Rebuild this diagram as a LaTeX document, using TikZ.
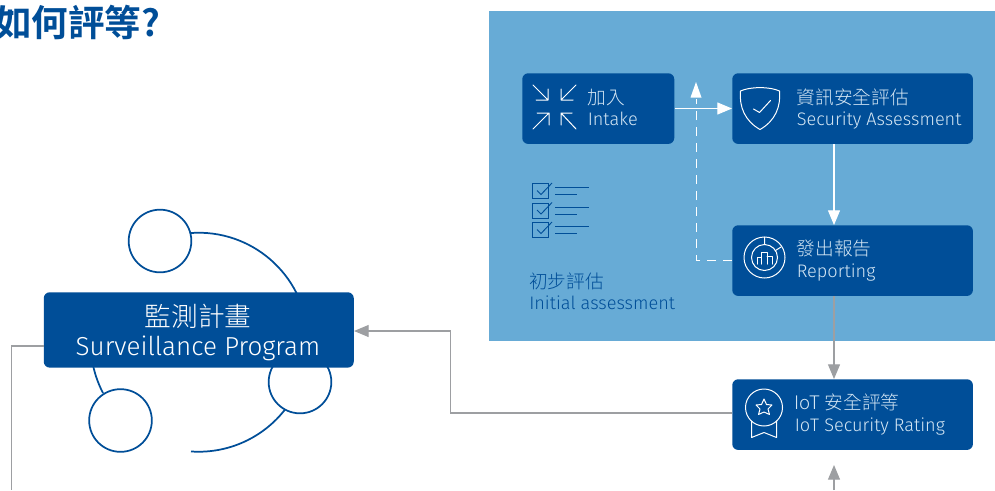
\documentclass[tikz,border=0pt]{standalone}
\usepackage{fontspec}
\setmainfont{Fira Sans Light}
\newfontfamily\cjk{Noto Sans CJK TC Light}
\newfontfamily\cjkbold{Noto Sans CJK TC Bold}
\usetikzlibrary{arrows.meta}
\definecolor{navy}{HTML}{004E98}
\definecolor{sky}{HTML}{67ABD6}
\definecolor{paleT}{HTML}{D4E6F4}
\definecolor{greyL}{HTML}{9D9FA2}
\tikzset{
 x=0.75pt,y=-0.75pt,
 boxn/.style={draw=none,fill=navy,rounded corners=4.5pt,inner sep=0pt,anchor=north west},
 ico/.style={draw=white,line width=0.75pt,line cap=round,line join=round},
 txt/.style={anchor=base west,inner sep=0pt,text=paleT,font=\fontsize{13.6}{16}\selectfont},
 txtzh/.style={anchor=base west,inner sep=0pt,text=paleT,font=\cjk\fontsize{14}{16}\selectfont},
 whitearrow/.style={draw=white,line width=0.8pt,-{Triangle[length=11pt,width=9pt,fill=white]}},
 greyarrow/.style={draw=greyL,line width=0.8pt,-{Triangle[length=11pt,width=9pt,fill=greyL]}},
 ring/.style={draw=navy,line width=1.3pt,fill=white},
 arcline/.style={draw=navy,line width=1.3pt},
 listic/.style={draw=navy,line width=0.7pt},
}
\begin{document}
\begin{tikzpicture}
\useasboundingbox (0,0) rectangle (995,490);
\fill[white] (0,0) rectangle (995,490);
\node[anchor=base west,inner sep=0pt,text=navy,font=\cjkbold\fontsize{27.4}{28}\selectfont] (title) at (-5,36) {如何評等?};
\fill[sky] (489,11) rectangle (995,341);

% surveillance rings
\draw[arcline] (191,233) arc[start angle=-94,end angle=94,radius=109.5];
\draw[arcline] (103,393) arc[start angle=152.5,end angle=172,radius=109.5];
\node[ring,circle,minimum size=47pt,inner sep=0pt] (c1) at (160,241) {};
\node[ring,circle,minimum size=47pt,inner sep=0pt] (c2) at (300,382) {};
\node[ring,circle,minimum size=47pt,inner sep=0pt] (c3) at (120.5,420.5) {};

% boxes
\node[boxn,minimum width=232.5pt,minimum height=56.5pt] (prog) at (43.5,292) {};
\node[anchor=base,inner sep=0pt,text=white,font=\cjk\fontsize{20}{21}\selectfont] (progzh) at (198,326.5) {監測計畫};
\node[anchor=base,inner sep=0pt,text=white,font=\fontsize{19.5}{20}\selectfont] (progen) at (198,355) {Surveillance Program};

\node[boxn,minimum width=114pt,minimum height=53pt] (intake) at (522,73) {};
\node[boxn,minimum width=180.5pt,minimum height=53pt] (secas) at (732,73) {};
\node[boxn,minimum width=180.5pt,minimum height=53pt] (report) at (732,225) {};
\node[boxn,minimum width=180.5pt,minimum height=53pt] (rating) at (732,379) {};

\node[txtzh] (t1a) at (587.5,104) {加入};
\node[txt] (t1b) at (587.5,125) {Intake};
\node[txtzh] (t2a) at (796.5,104) {資訊安全評估};
\node[txt] (t2b) at (796.5,125) {Security Assessment};
\node[txtzh] (t3a) at (796.5,255.5) {發出報告};
\node[txt] (t3b) at (796.5,277) {Reporting};
\node[txtzh] (t4a) at (794.5,409.5) {IoT 安全評等};
\node[txt] (t4b) at (794.5,431) {IoT Security Rating};
\node[txtzh,text=navy] (t5a) at (529,288) {初步評估};
\node[txt,text=navy] (t5b) at (529,309) {Initial assessment};

% connectors
\draw[whitearrow] (intake.east |- 0,108.5) -- (secas.west |- 0,108.5);
\draw[white,line width=0.7pt,dash pattern=on 7pt off 5pt] (report.west |- 0,260) -- (696,260) -- (696,99);
\fill[white] (696,82) -- (701.5,97.5) -- (690.5,97.5) -- cycle;
\draw[whitearrow] (secas.south -| 834,0) -- (report.north -| 834,0);
\draw[greyarrow] (report.south -| 834,0) -- (rating.north -| 834,0);
\coordinate (bot) at (834,490);
\draw[greyarrow] (bot) -- (834,465);
\draw[greyarrow] (rating.west |- 0,413) -- (450.5,413) -- (450.5,331) -- (prog.east |- 0,331);
\coordinate (botL) at (11.5,490);
\draw[draw=greyL,line width=0.8pt] (prog.west |- 0,346) -- (11.5,346) -- (botL);

% intake icon
\begin{scope}[ico]
\draw (533,85) -- (548,100) (548,89) -- (548,100) -- (536,100);
\draw (576,85) -- (561,100) (561,89) -- (561,100) -- (573,100);
\draw (533,129) -- (549,113) (537,113) -- (549,113) -- (549,125);
\draw (576,129) -- (561,113) (572,113) -- (561,113) -- (561,125);
\end{scope}

% shield icon
\draw[ico] (760,87.5) .. controls (750,88) and (745,89) .. (740.5,91) .. controls (739,107) and (745,121) .. (760,129.5) .. controls (775,121) and (781,107) .. (779.5,91) .. controls (775,89) and (770,88) .. (760,87.5) -- cycle;
\draw[ico] (753.5,109) -- (759.5,112.5) -- (770.5,100.5);

% report icon
\begin{scope}[ico]
\draw (764.5,257.5) circle[radius=20.5];
\draw (764.5,257.5) circle[radius=13];
\draw (764.5,237) -- (764.5,244.5) (781,247) -- (775.5,250.5);
\draw (757,264) -- (757,257.5) -- (761,257.5) -- (761,252) -- (767,252) -- (767,264) (767,256) -- (772,256) -- (772,264) (761,257.5) -- (761,264);
\end{scope}

% rating icon
\begin{scope}[ico]
\draw (764,407.5) circle[radius=18.5];
\draw (764,399) -- (766.5,404.5) -- (772,405) -- (768,409) -- (769.5,414.5) -- (764,412) -- (758.5,414.5) -- (760,409) -- (756,405) -- (761.5,404.5) -- cycle;
\draw (751.5,421) -- (751.5,437.5) -- (764,432.5) -- (776.5,437.5) -- (776.5,421);
\end{scope}

% checklist icon
\foreach \yy in {0,19.5,39}{
\begin{scope}[listic,yshift=-\yy*0.75pt]
\draw (532.5,183.5) rectangle (548.5,198.5);
\draw (537,190.5) -- (541,194.5) -- (552,183);
\draw (555,187.5) -- (589,187.5);
\draw (555,194.5) -- (577,194.5);
\end{scope}}
\end{tikzpicture}
\end{document}
